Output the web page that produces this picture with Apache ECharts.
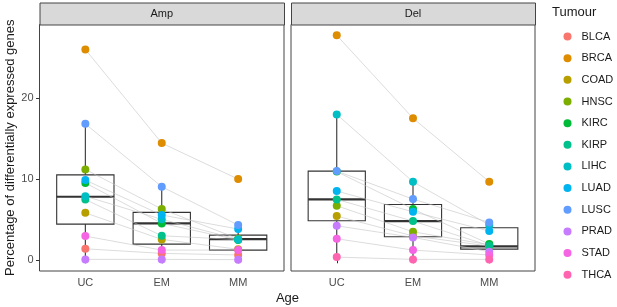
<!DOCTYPE html>
<html>
<head>
<meta charset="utf-8">
<script src="https://cdn.jsdelivr.net/npm/echarts@6/dist/echarts.min.js"></script>
<style>
html,body{margin:0;padding:0;background:#fff;}
#chart{width:617px;height:307px;}
</style>
</head>
<body>
<div id="chart"></div>
<script>
// ---------- data ----------
const tumours = ['BLCA','BRCA','COAD','HNSC','KIRC','KIRP','LIHC','LUAD','LUSC','PRAD','STAD','THCA'];
const tumourColors = ['#F8766D','#DE8C00','#B79F00','#7CAE00','#00BA38','#00C08B','#00BFC4','#00B4F0','#619CFF','#C77CFF','#F564E3','#FF64B0'];
const ages = ['UC','EM','MM'];
const panels = ['Amp','Del'];
const yTicks = [0,10,20];

// values per tumour (order as in tumours), null = not present
const ampUC = [1.36, 26.0, 5.8, 11.17, 9.5, 7.45, 7.85, 9.85, 16.8, 0.05, 2.93, null];
const ampEM = [0.79, 14.42, 2.52, 6.27, 4.5, 2.97, 5.0, 5.53, 9.03, 0.05, 1.2, null];
const ampMM = [0.6, 9.97, 1.3, 2.6, 2.45, 2.5, 2.52, 3.8, 4.29, 0.02, 1.2, null];

const delUC = [null, 27.74, 5.4, 6.68, 10.9, 7.46, 17.97, 8.49, 10.96, 4.2, 2.6, 0.33];
const delEM = [null, 17.5, 2.95, 3.46, 6.27, 4.78, 9.64, 5.93, 7.5, 2.77, 1.2, 0.05];
const delMM = [null, 9.64, 1.7, 1.85, 1.95, 1.75, 4.3, 3.55, 4.62, 1.0, 0.6, 0.05];

// box statistics per age: [lower whisker, Q1, median, Q3, upper whisker]
const ampBox = [[0.05, 4.41, 7.79, 10.5, 16.8], [0.05, 1.94, 4.5, 5.86, 9.03], [0.02, 1.2, 2.55, 3.05, 4.29]];
const delBox = [[0.33, 4.82, 7.46, 10.96, 17.97], [0.05, 2.85, 4.78, 6.84, 9.64], [0.05, 1.32, 1.65, 3.96, 4.62]];

// ---------- chart ----------
const FONT = '"Liberation Sans", Arial, Helvetica, sans-serif';
const chart = echarts.init(document.getElementById('chart'), null, {renderer: 'canvas'});

const panelData = [
  {uc: ampUC, em: ampEM, mm: ampMM, box: ampBox},
  {uc: delUC, em: delEM, mm: delMM, box: delBox}
];

const gridDefs = [
  {left: 39.5, top: 24.5, width: 244.5, height: 246.5},
  {left: 291, top: 24.5, width: 244, height: 246.5}
];

const grids = gridDefs.map(g => Object.assign({
  show: true, backgroundColor: '#fff', borderColor: '#444', borderWidth: 1, containLabel: false
}, g));

const xAxes = gridDefs.map((g, i) => ({
  type: 'value', gridIndex: i, min: 0.4, max: 3.6,
  axisLine: {show: false},
  splitLine: {show: false},
  axisTick: {show: true, length: 3.5, customValues: [1,2,3], lineStyle: {color: '#333'}},
  axisLabel: {show: true, customValues: [1,2,3], margin: 6, color: '#4D4D4D', fontSize: 11, fontFamily: FONT,
    formatter: v => ages[Math.round(v) - 1] || ''}
}));

const yAxes = gridDefs.map((g, i) => ({
  type: 'value', gridIndex: i, min: -1.385, max: 29.08,
  axisLine: {show: false},
  splitLine: {show: false},
  axisTick: {show: i === 0, length: 3.5, customValues: yTicks, lineStyle: {color: '#333'}},
  axisLabel: {show: i === 0, customValues: yTicks, margin: 6, color: '#4D4D4D', fontSize: 11, fontFamily: FONT},
  name: i === 0 ? 'Percentage of differentially expressed genes' : '',
  nameLocation: 'middle', nameGap: 22,
  nameTextStyle: {fontSize: 13, color: '#1A1A1A', fontFamily: FONT}
}));

const series = [];
// boxes
panelData.forEach((p, pi) => {
  series.push({
    type: 'custom', xAxisIndex: pi, yAxisIndex: pi, silent: true, z: 1,
    data: p.box.map((b, k) => [k + 1].concat(b)),
    encode: {x: 0, y: [1,2,3,4,5]},
    renderItem: function (params, api) {
      const x = api.value(0);
      const low = api.coord([x, api.value(1)]);
      const q1 = api.coord([x, api.value(2)]);
      const med = api.coord([x, api.value(3)]);
      const q3 = api.coord([x, api.value(4)]);
      const high = api.coord([x, api.value(5)]);
      const hw = api.size([0.75, 0])[0] / 2;
      const stroke = '#333';
      return {
        type: 'group',
        children: [
          {type: 'line', shape: {x1: low[0], y1: low[1], x2: q1[0], y2: q1[1]}, style: {stroke: stroke, lineWidth: 1.1}},
          {type: 'line', shape: {x1: q3[0], y1: q3[1], x2: high[0], y2: high[1]}, style: {stroke: stroke, lineWidth: 1.1}},
          {type: 'rect', shape: {x: q1[0] - hw, y: q3[1], width: hw * 2, height: q1[1] - q3[1]}, style: {fill: '#fff', stroke: stroke, lineWidth: 1.1}},
          {type: 'line', shape: {x1: med[0] - hw, y1: med[1], x2: med[0] + hw, y2: med[1]}, style: {stroke: stroke, lineWidth: 2.2}}
        ]
      };
    }
  });
});
// connecting lines
panelData.forEach((p, pi) => {
  tumours.forEach((t, ti) => {
    if (p.uc[ti] == null) return;
    series.push({
      type: 'line', name: 'line_' + t + '_' + pi, xAxisIndex: pi, yAxisIndex: pi, z: 2,
      data: [[1, p.uc[ti]], [2, p.em[ti]], [3, p.mm[ti]]],
      showSymbol: false, symbol: 'none', silent: true,
      lineStyle: {color: '#C4C4C4', width: 0.6}
    });
  });
});
// points
panelData.forEach((p, pi) => {
  tumours.forEach((t, ti) => {
    if (p.uc[ti] == null) return;
    series.push({
      type: 'scatter', name: t, xAxisIndex: pi, yAxisIndex: pi, z: 3,
      data: [[1, p.uc[ti]], [2, p.em[ti]], [3, p.mm[ti]]],
      symbol: 'circle', symbolSize: 8,
      itemStyle: {color: tumourColors[ti], opacity: 1}
    });
  });
});

const graphics = [];
gridDefs.forEach((g, i) => {
  graphics.push({
    type: 'rect', left: g.left, top: 2.5, silent: true,
    shape: {width: g.width, height: 22},
    style: {fill: '#D9D9D9', stroke: '#444', lineWidth: 1}
  });
  graphics.push({
    type: 'text', x: g.left + g.width / 2, y: 13.5, silent: true,
    style: {text: panels[i], fill: '#1A1A1A', fontSize: 11, fontFamily: FONT, textAlign: 'center', textVerticalAlign: 'middle'}
  });
});
graphics.push({
  type: 'text', x: 287.5, y: 298, silent: true,
  style: {text: 'Age', fill: '#1A1A1A', fontSize: 13, fontFamily: FONT, textAlign: 'center', textVerticalAlign: 'middle'}
});
graphics.push({
  type: 'text', x: 552, y: 12, silent: true,
  style: {text: 'Tumour', fill: '#1A1A1A', fontSize: 13, fontFamily: FONT, textAlign: 'left', textVerticalAlign: 'middle'}
});

chart.setOption({
  animation: false,
  backgroundColor: '#fff',
  grid: grids,
  xAxis: xAxes,
  yAxis: yAxes,
  legend: {
    data: tumours.map(t => ({name: t, icon: 'circle'})),
    orient: 'vertical', left: 563.5, top: 30.5, padding: 0,
    itemWidth: 8, itemHeight: 8, itemGap: 9.66,
    selectedMode: false,
    textStyle: {fontSize: 11, color: '#1A1A1A', fontFamily: FONT, lineHeight: 12, padding: [0, 0, 0, 5]}
  },
  graphic: graphics,
  series: series
});
</script>
</body>
</html>
